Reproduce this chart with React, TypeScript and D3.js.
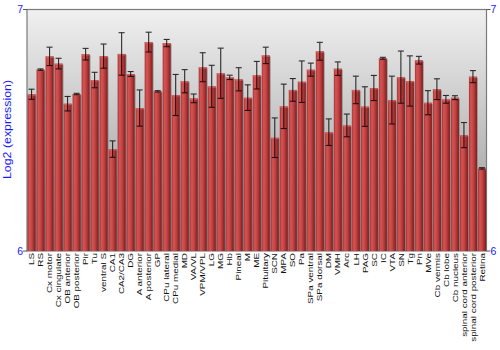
import React from "react";
import * as d3 from "d3";

const categories = ["LS","RS","Cx motor","Cx cingulate","OB anterior","OB posterior","Pir","Tu","ventral S","CA1","CA2/CA3","DG","A anterior","A posterior","GP","CPu lateral","CPu medial","MD","VA/VL","VPM/VPL","LG","MG","Hb","Pineal","M","ME","Pituitary","SCN","MPA","SO","Pa","SPa ventral","SPa dorsal","DM","VMH","Arc","LH","PAG","SC","IC","VTA","SN","Tg","Pn","MVe","Cb vermis","Cb lobe","Cb nucleus","spinal cord anterior","spinal cord posterior","Retina"];

const values = [6.649,6.751,6.806,6.776,6.610,6.650,6.815,6.708,6.807,6.422,6.816,6.733,6.592,6.865,6.661,6.861,6.646,6.703,6.632,6.761,6.682,6.736,6.719,6.711,6.635,6.728,6.810,6.469,6.599,6.667,6.701,6.751,6.827,6.492,6.755,6.520,6.667,6.598,6.675,6.798,6.625,6.720,6.704,6.790,6.614,6.670,6.628,6.635,6.480,6.722,6.342];

const errors = [0.021,0.003,0.038,0.022,0.030,0.003,0.024,0.032,0.050,0.034,0.088,0.010,0.075,0.041,0.003,0.015,0.085,0.048,0.018,0.060,0.087,0.104,0.009,0.048,0.053,0.057,0.034,0.082,0.092,0.047,0.086,0.027,0.037,0.055,0.028,0.047,0.057,0.082,0.052,0.004,0.099,0.108,0.104,0.016,0.050,0.043,0.016,0.008,0.052,0.025,0.003];

const yTicks = [6, 7];

const W = 500, H = 350;
const left = 27, right = 486.5, top = 9.5, bottom = 251;

export default function App() {
  const x = d3.scaleBand<string>().domain(categories).range([left, right]).paddingInner(0.11).paddingOuter(0.06);
  const y = d3.scaleLinear().domain([6, 7]).range([bottom, top]);
  const bw = x.bandwidth();
  const font = "'Liberation Sans', Arial, sans-serif";
  return (
    <svg width={W} height={H} style={{ position: "absolute", left: 0, top: 0 }} fontFamily={font}>
      <defs>
        <linearGradient id="bg" x1="0" y1="0" x2="0" y2="1">
          <stop offset="0%" stopColor="#f0f0f0" />
          <stop offset="100%" stopColor="#929292" />
        </linearGradient>
        <linearGradient id="bar" x1="0" y1="0" x2="1" y2="0">
          <stop offset="0%" stopColor="#a83434" />
          <stop offset="25%" stopColor="#d45454" />
          <stop offset="55%" stopColor="#c44242" />
          <stop offset="100%" stopColor="#7c1c1c" />
        </linearGradient>
      </defs>
      <rect x={left} y={top} width={right - left} height={bottom - top} fill="url(#bg)" stroke="#7a7a7a" strokeWidth={1.2} />
      {categories.map((c, i) => {
        const bx = x(c)!;
        const by = y(values[i]);
        return (
          <g key={c}>
            <rect x={bx + 1} y={by + 1} width={bw} height={bottom - by - 1} fill="#6a6a6a" opacity={0.5} />
            <rect x={bx} y={by} width={bw} height={bottom - by} fill="url(#bar)" />
            <rect x={bx} y={by} width={bw} height={1.5} fill="#d86a6a" opacity={0.7} />
          </g>
        );
      })}
      {categories.map((c, i) => {
        const cx = x(c)! + bw / 2;
        const y1 = y(values[i] + errors[i]);
        const y2 = y(values[i] - errors[i]);
        return (
          <g key={"e" + c} stroke="#000" strokeWidth={1.1} opacity={0.8}>
            <line x1={cx} x2={cx} y1={y1} y2={y2} />
            <line x1={cx - 3} x2={cx + 3} y1={y1} y2={y1} />
            <line x1={cx - 3} x2={cx + 3} y1={y2} y2={y2} />
          </g>
        );
      })}
      {yTicks.map((t) => (
        <g key={"t" + t}>
          <line x1={left - 4} x2={left} y1={y(t)} y2={y(t)} stroke="#555" />
          <line x1={right} x2={right + 4} y1={y(t)} y2={y(t)} stroke="#555" />
          <text x={left - 4} y={y(t)} dy="0.36em" textAnchor="end" fontSize={10.5} fill="#1a1aff">{t}</text>
          <text x={right + 4} y={y(t)} dy="0.36em" textAnchor="start" fontSize={10.5} fill="#1a1aff">{t}</text>
        </g>
      ))}
      {categories.map((c) => (
        <text key={"l" + c} transform={`translate(${x(c)! + bw / 2},253) rotate(-90) scale(1.3,1)`} textAnchor="end" dy="0.35em" fontSize={7.6} fill="#111">{c}</text>
      ))}
      <text transform="translate(10.5,129.5) rotate(-90) scale(1.24,1)" textAnchor="middle" fontSize={10} fill="#1a1aff">Log2 (expression)</text>
    </svg>
  );
}
